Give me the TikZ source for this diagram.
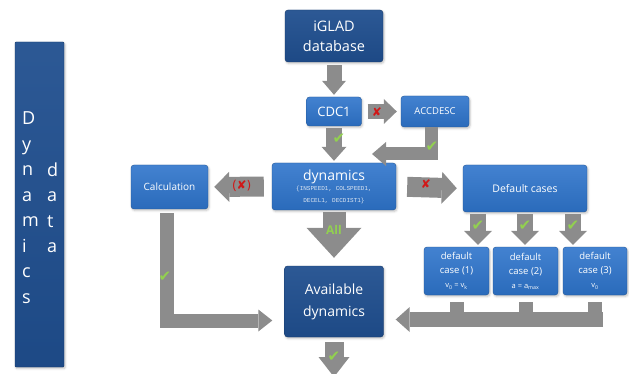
\documentclass[tikz,border=0pt]{standalone}
\usepackage{fontspec}
\setmainfont{Open Sans}
\newfontfamily\codefont{Liberation Mono}
\newfontfamily\symfont{DejaVu Sans}
\usetikzlibrary{arrows.meta,calc,shadows.blur}
\definecolor{boxblue}{HTML}{2E74CB}
\definecolor{darkblue}{HTML}{1F4E8E}
\definecolor{arrowgray}{HTML}{8C8C8C}
\definecolor{okgreen}{HTML}{92D050}
\definecolor{nored}{HTML}{D01818}
\definecolor{paletext}{HTML}{DCE6F2}
\tikzset{
	box/.style={
			draw=boxblue!75!black, line width=0.4pt, rounded corners=3pt,
			top color=boxblue!90!white, bottom color=boxblue!92!black,
			text=white, align=center, inner sep=0pt,
			blur shadow={shadow xshift=1pt, shadow yshift=-1.5pt, shadow opacity=25}
		},
	darkbox/.style={
			box, draw=darkblue!75!black,
			top color=darkblue!94!white, bottom color=darkblue!94!black
		},
	garrow/.style={draw=arrowgray, line join=miter},
	okmark/.style={text=okgreen, font=\symfont\fontsize{15}{15}\selectfont, inner sep=0pt},
	nomark/.style={text=nored, font=\symfont\fontsize{12}{12}\selectfont, inner sep=0pt}
}
\begin{document}
\begin{tikzpicture}[x=1pt, y=-1pt]
        \useasboundingbox (0,0) rectangle (629,374);
        % side bar
        \node[darkbox, rounded corners=1pt, minimum width=49pt, minimum height=325pt] (sidebar) at (39.5,204.5) {};
        \node[anchor=west, text=white, align=left, inner sep=0pt, font=\fontsize{18}{25.5}\selectfont] (dynword) at (22,207.5) {D\\y\\n\\a\\m\\i\\c\\s};
        \node[anchor=west, text=white, align=left, inner sep=0pt, font=\fontsize{18}{25.5}\selectfont] (dataword) at (47,207.5) {d\\a\\t\\a};
        % boxes
        \node[darkbox, minimum width=98pt, minimum height=52pt, font=\fontsize{14.5}{20}\selectfont] (iglad) at (334,36) {iGLAD\\database};
        \node[box, minimum width=55pt, minimum height=29pt, font=\fontsize{13}{15}\selectfont] (cdc) at (334,111.5) {CDC1};
        \node[box, minimum width=68pt, minimum height=31pt, font=\fontsize{9.5}{11}\selectfont] (accdesc) at (435,111.5) {ACCDESC};
        \node[box, minimum width=124pt, minimum height=47pt] (dyn) at (334,186.5) {\fontsize{14}{14}\selectfont dynamics\\[-2pt]
                \color{paletext}\codefont\fontsize{6}{7.5}\selectfont \{INSPEED1, COLSPEED1,\\
                \color{paletext}\codefont\fontsize{6}{7.5}\selectfont DECEL1, DECDIST1\}};
        \node[box, minimum width=77pt, minimum height=44pt, font=\fontsize{10}{12}\selectfont] (calc) at (169.5,187) {Calculation};
        \node[box, minimum width=124pt, minimum height=47pt, font=\fontsize{10.5}{12}\selectfont] (defc) at (525,188.5) {Default cases};
        \node[box, minimum width=65pt, minimum height=48pt, font=\fontsize{9.5}{14}\selectfont] (dc1) at (456.5,271) {default\\case (1)\\
                \fontsize{7.5}{9}\selectfont v\textsubscript{0} = v\textsubscript{k}};
        \node[box, minimum width=65pt, minimum height=48pt, font=\fontsize{9.5}{14}\selectfont] (dc2) at (525.5,271) {default\\case (2)\\
                \fontsize{7.5}{9}\selectfont a = a\textsubscript{max}};
        \node[box, minimum width=64pt, minimum height=48pt, font=\fontsize{9.5}{14}\selectfont] (dc3) at (595,271) {default\\case (3)\\
                \fontsize{7.5}{9}\selectfont v\textsubscript{0}};
        \node[darkbox, minimum width=99pt, minimum height=71pt, font=\fontsize{14}{22}\selectfont] (avail) at (334,301.5) {Available\\dynamics};
        % bends and free ends
        \coordinate (accbend) at (431,154);
        \coordinate (acctip) at (372,154);
        \coordinate (calcbend) at (166.5,320.5);
        \coordinate (barR) at (603,319.5);
        \coordinate (out) at (334,377);
        % arrows
        \draw[garrow, line width=15pt, -{Triangle[width=24pt,length=14pt,line width=0pt]}, shorten <=3pt, shorten >=2pt] (iglad.south) -- (cdc.north);
        \draw[garrow, line width=15pt, -{Triangle[width=25pt,length=13pt,line width=0pt]}, shorten <=6pt, shorten >=4pt] (cdc.east) -- (accdesc.west);
        \draw[garrow, line width=16pt, -{Triangle[width=25pt,length=14pt,line width=0pt]}, shorten <=2pt, shorten >=2pt] (cdc.south) -- (dyn.north);
        \draw[garrow, line width=13pt, -{Triangle[width=24pt,length=14pt,line width=0pt]}] (accdesc.south -| accbend) -- (accbend) -- (acctip);
        \draw[garrow, line width=20pt, -{Triangle[width=30pt,length=15pt,line width=0pt]}, shorten <=8pt, shorten >=6pt] (dyn.west) -- (calc.east);
        \draw[garrow, line width=20pt, -{Triangle[width=32pt,length=15pt,line width=0pt]}, shorten <=11pt, shorten >=6pt] (dyn.east) -- (defc.west);
        \draw[garrow, line width=16pt, -{Triangle[width=28pt,length=14pt,line width=0pt]}, shorten <=2pt, shorten >=2pt] ([xshift=-47pt]defc.south) -- ([xshift=-47pt]defc.south |- dc1.north);
        \draw[garrow, line width=16pt, -{Triangle[width=28pt,length=14pt,line width=0pt]}, shorten <=2pt, shorten >=2pt] (defc.south) -- (defc.south |- dc2.north);
        \draw[garrow, line width=16pt, -{Triangle[width=28pt,length=14pt,line width=0pt]}, shorten <=2pt, shorten >=2pt] ([xshift=48pt]defc.south) -- ([xshift=48pt]defc.south |- dc3.north);
        \draw[garrow, line width=23pt, -{Triangle[width=55pt,length=30pt,line width=0pt]}, shorten <=2pt, shorten >=8pt] (dyn.south) -- (avail.north);
        \draw[garrow, line width=19pt, -{Triangle[width=31pt,length=20pt,line width=0pt]}, shorten <=5pt] (avail.south) -- (out);
        \draw[garrow, line width=14pt, -{Triangle[width=22pt,length=14pt,line width=0pt]}, shorten <=4pt, shorten >=12pt] (calc.south -| calcbend) -- (calcbend) -- (avail.west |- calcbend);
        \draw[garrow, line width=14pt, shorten <=7pt] (dc1.south) -- (dc1.south |- barR);
        \draw[garrow, line width=14pt, shorten <=7pt] (dc2.south) -- (dc2.south |- barR);
        \draw[garrow, line width=14pt, shorten <=7pt] (dc3.south) -- (dc3.south |- barR);
        \draw[garrow, line width=15pt, -{Triangle[width=25pt,length=14pt,line width=0pt]}, shorten >=12pt] (barR) -- (avail.east |- barR);
        % marks on the arrows
        \node[nomark] (noacc) at (377,112) {✘};
        \node[text=nored, inner sep=0pt, font=\fontsize{13}{13}\selectfont] (nocalc) at (242,186) {(\symfont\fontsize{12}{12}\selectfont ✘)};
        \node[nomark] (nodef) at (426,184) {✘};
        \node[okmark] (okcdc) at (339,139) {✔};
        \node[okmark] (okacc) at (432,147) {✔};
        \node[okmark] (okcalc) at (165,277) {✔};
        \node[okmark] (okdc1) at (478,226) {✔};
        \node[okmark] (okdc2) at (525,226) {✔};
        \node[okmark] (okdc3) at (573,226) {✔};
        \node[okmark] (okout) at (334,357) {✔};
        \node[text=okgreen, inner sep=0pt, font=\bfseries\fontsize{12}{12}\selectfont] (alllabel) at (334,230) {All};
    \end{tikzpicture}
\end{document}
